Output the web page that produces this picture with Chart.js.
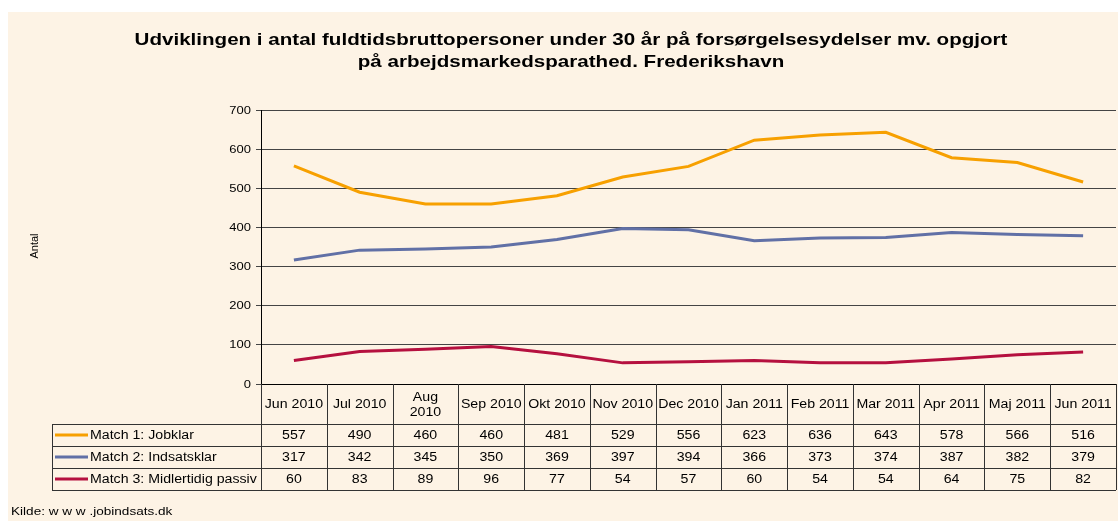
<!DOCTYPE html>
<html><head><meta charset="utf-8">
<script src="https://cdn.jsdelivr.net/npm/chart.js@4"></script>
<style>html,body{margin:0;padding:0;background:#fff;}#wrap{width:1119px;height:521px;position:relative;}</style>
</head><body><div id="wrap"><canvas id="c" width="1119" height="521"></canvas></div>
<script>
const titleLines = ['Udviklingen i antal fuldtidsbruttopersoner under 30 år på forsørgelsesydelser mv. opgjort','på arbejdsmarkedsparathed. Frederikshavn'];
const categories = ['Jun 2010','Jul 2010',['Aug','2010'],'Sep 2010','Okt 2010','Nov 2010','Dec 2010','Jan 2011','Feb 2011','Mar 2011','Apr 2011','Maj 2011','Jun 2011'];
const seriesNames = ['Match 1: Jobklar','Match 2: Indsatsklar','Match 3: Midlertidig passiv'];
const jobklar = [557,490,460,460,481,529,556,623,636,643,578,566,516];
const indsatsklar = [317,342,345,350,369,397,394,366,373,374,387,382,379];
const passiv = [60,83,89,96,77,54,57,60,54,54,64,75,82];
const seriesColors = ['#F7A000','#6170A6','#B5103F'];
const yTicks = [0,100,200,300,400,500,600,700];
const yLabel = 'Antal';
const source = 'Kilde: w w w .jobindsats.dk';

const FONT = '"Liberation Sans", Arial, sans-serif';
const BG = '#FDF3E5';
const SX = 1.18;
const PLOT_LEFT = 261, PLOT_RIGHT = 1116, PLOT_TOP = 110, PLOT_BOTTOM = 384;
const TABLE_LEFT = 52, HEADER_BOTTOM = 424, ROW_H = 22;

function txt(ctx, s, x, y, font, align, sx) {
  ctx.save();
  ctx.font = font;
  ctx.textAlign = align;
  ctx.textBaseline = 'middle';
  ctx.translate(x, y);
  ctx.scale(sx || SX, 1);
  ctx.fillText(s, 0, 0);
  ctx.restore();
}

const bgPlugin = {
  id: 'bg',
  beforeDraw(chart) {
    const ctx = chart.ctx;
    ctx.save();
    ctx.fillStyle = '#fff';
    ctx.fillRect(0,0,chart.width,chart.height);
    ctx.fillStyle = BG;
    ctx.fillRect(8,12,1110,509);
    ctx.restore();
  }
};

const tablePlugin = {
  id: 'table',
  afterDraw(chart) {
    const ctx = chart.ctx;
    const xs = chart.scales.x, ys = chart.scales.y;
    const n = categories.length;
    const half = (xs.getPixelForValue(1) - xs.getPixelForValue(0)) / 2;
    const top = chart.chartArea.bottom;
    const bottom = HEADER_BOTTOM + ROW_H * 3;
    const right = xs.getPixelForValue(n - 1) + half;
    ctx.save();
    ctx.fillStyle = '#000';
    // title
    const tf = 'bold 17px ' + FONT;
    txt(ctx, titleLines[0], 571, 40, tf, 'center', 1.21);
    txt(ctx, titleLines[1], 571, 62.5, tf, 'center', 1.21);
    // y tick labels
    yTicks.forEach(v => txt(ctx, String(v), 251, ys.getPixelForValue(v) + 0.5, '11px ' + FONT, 'right'));
    ctx.strokeStyle = '#333';
    ctx.lineWidth = 1;
    // vertical lines
    for (let i = 0; i <= n; i++) {
      const x = Math.round(xs.getPixelForValue(i) - half) + 0.5;
      ctx.beginPath(); ctx.moveTo(x, top); ctx.lineTo(x, bottom); ctx.stroke();
    }
    const lx = TABLE_LEFT + 0.5;
    ctx.beginPath(); ctx.moveTo(lx, HEADER_BOTTOM); ctx.lineTo(lx, bottom); ctx.stroke();
    // horizontal lines
    for (let r = 0; r <= 3; r++) {
      const y = HEADER_BOTTOM + r * ROW_H + 0.5;
      ctx.beginPath(); ctx.moveTo(TABLE_LEFT, y); ctx.lineTo(right, y); ctx.stroke();
    }
    // header text
    const f12 = '12px ' + FONT;
    const hMid = (top + HEADER_BOTTOM) / 2 + 1;
    categories.forEach((c, i) => {
      const x = xs.getPixelForValue(i);
      if (Array.isArray(c)) {
        txt(ctx, c[0], x, hMid - 7, f12, 'center');
        txt(ctx, c[1], x, hMid + 8, f12, 'center');
      } else {
        txt(ctx, c, x, hMid, f12, 'center');
      }
    });
    // rows
    chart.data.datasets.forEach((ds, r) => {
      const yMid = HEADER_BOTTOM + r * ROW_H + ROW_H / 2 + 1;
      ctx.strokeStyle = ds.borderColor;
      ctx.lineWidth = 3;
      ctx.beginPath(); ctx.moveTo(TABLE_LEFT + 3, yMid - 1); ctx.lineTo(TABLE_LEFT + 36, yMid - 1); ctx.stroke();
      txt(ctx, ds.label, TABLE_LEFT + 38, yMid, f12, 'left');
      ds.data.forEach((v, i) => txt(ctx, String(v), xs.getPixelForValue(i), yMid, f12, 'center'));
    });
    // y label
    ctx.save();
    ctx.translate(35, 246);
    ctx.rotate(-Math.PI / 2);
    ctx.font = '11px ' + FONT;
    ctx.textAlign = 'center';
    ctx.textBaseline = 'middle';
    ctx.fillText(yLabel, 0, 0);
    ctx.restore();
    // source
    txt(ctx, source, 11, 512, '11.5px ' + FONT, 'left');
    ctx.restore();
  }
};

new Chart(document.getElementById('c'), {
  type: 'line',
  data: {
    labels: categories,
    datasets: [
      { label: seriesNames[0], data: jobklar, borderColor: seriesColors[0] },
      { label: seriesNames[1], data: indsatsklar, borderColor: seriesColors[1] },
      { label: seriesNames[2], data: passiv, borderColor: seriesColors[2] }
    ].map(d => Object.assign(d, { borderWidth: 3, pointRadius: 0, tension: 0, fill: false }))
  },
  options: {
    responsive: false,
    animation: false,
    layout: { padding: { left: 0, right: 1119 - PLOT_RIGHT, top: PLOT_TOP, bottom: 521 - PLOT_BOTTOM } },
    plugins: {
      legend: { display: false },
      tooltip: { enabled: false },
      title: { display: false }
    },
    scales: {
      x: {
        offset: true,
        grid: { display: false },
        border: { display: true, color: '#000', width: 1 },
        ticks: { display: false },
        afterFit(s) { s.height = 0; }
      },
      y: {
        min: 0, max: 700,
        afterBuildTicks(s) { s.ticks = yTicks.map(v => ({ value: v })); },
        grid: { color: '#444', lineWidth: 1, tickLength: 5, drawTicks: true },
        border: { display: true, color: '#000', width: 1 },
        ticks: { display: false },
        afterFit(s) { s.width = PLOT_LEFT; }
      }
    }
  },
  plugins: [bgPlugin, tablePlugin]
});
</script></body></html>
